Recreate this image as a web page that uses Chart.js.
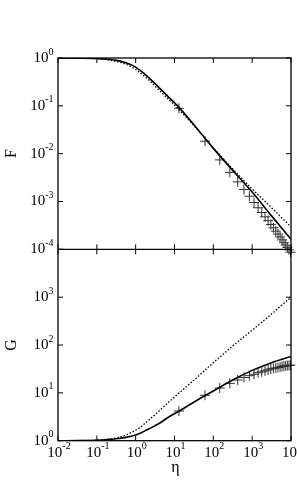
<!DOCTYPE html>
<html>
<head>
<meta charset="utf-8">
<script src="https://cdn.jsdelivr.net/npm/chart.js@4"></script>
<style>
	html, body { margin: 0; padding: 0; background: #fff; }
	#wrap { position: relative; width: 297px; height: 501px; }
</style>
</head>
<body>
<div id="wrap"><canvas id="c" width="297" height="501"></canvas></div>
<script>
// eta grid of the two model curves
const etaCurve = [0.01, 0.032, 0.1, 0.32, 0.56, 1, 1.26, 1.78, 2.24, 4, 7.3, 12, 32, 100, 316, 1000, 3162, 10000]
const fSolid = [1, 0.995, 0.977, 0.891, 0.794, 0.646, 0.562, 0.447, 0.380, 0.240, 0.148, 0.100, 0.0398, 0.0129, 0.00447, 0.00158, 0.000501, 0.000162]
const fDotted = [1, 0.991, 0.966, 0.851, 0.741, 0.575, 0.501, 0.398, 0.339, 0.214, 0.132, 0.0891, 0.0380, 0.0132, 0.00479, 0.00182, 0.000741, 0.000295]
const gSolid = [1, 1.005, 1.023, 1.096, 1.175, 1.318, 1.413, 1.622, 1.778, 2.291, 3.162, 3.981, 6.457, 10.96, 18.62, 29.51, 42.66, 57.54]
const gDotted = [1, 1.007, 1.028, 1.148, 1.318, 1.660, 1.862, 2.344, 2.754, 4.169, 6.531, 9.333, 18.62, 42.66, 95.5, 204.2, 446.7, 1000]

// measured points (+)
const etaPts = [13, 61, 146, 266, 424, 615, 846, 1115, 1421, 1764, 2146, 2567, 3025, 3520, 4055, 4628, 5238, 5888, 6575, 7300, 8065, 8868, 9709]
const fPts = [0.0891, 0.0182, 0.00741, 0.00407, 0.00257, 0.00178, 0.00129, 0.000955, 0.000741, 0.000589, 0.000479, 0.000398, 0.000331, 0.000282, 0.000240, 0.000209, 0.000182, 0.000158, 0.000138, 0.000123, 0.000110, 0.0000977, 0.0000871]
const gPts = [4.17, 8.91, 12.6, 15.8, 18.6, 20.9, 22.9, 24.5, 26.3, 27.5, 28.8, 30.2, 31.6, 32.4, 33.1, 33.9, 34.7, 35.5, 36.3, 36.7, 37.2, 37.6, 38.0]

// tick exponents
const xExps = [-2, -1, 0, 1, 2, 3, 4]
const fExps = [0, -1, -2, -3, -4]
const gExps = [0, 1, 2, 3, 4]

const FONT = "'Liberation Serif', 'DejaVu Serif', serif"

function pairs(xs, ys) {
	return xs.map((x, i) => ({ x, y: ys[i] }))
}

function lineSet(ys, yAxisID, dashed) {
	return {
		data: pairs(etaCurve, ys),
		yAxisID,
		borderColor: "#000",
		borderWidth: dashed ? 1.3 : 1.6,
		borderDash: dashed ? [1.5, 1.8] : [],
		pointRadius: 0,
		cubicInterpolationMode: "monotone",
		fill: false,
	}
}

function pointSet(ys, yAxisID) {
	return {
		data: pairs(etaPts, ys),
		yAxisID,
		showLine: false,
		pointStyle: "cross",
		pointRadius: 5,
		pointBorderWidth: 1,
		pointBorderColor: "#333",
		clip: false,
	}
}

function drawPow(ctx, exp, x, y, align) {
	ctx.font = "15px " + FONT
	const wBase = ctx.measureText("10").width
	ctx.font = "10px " + FONT
	const wExp = ctx.measureText(String(exp)).width
	const total = wBase + wExp
	let left = align === "right" ? x - total : x - total / 2
	ctx.textAlign = "left"
	ctx.textBaseline = "middle"
	ctx.font = "15px " + FONT
	ctx.fillText("10", left, y)
	ctx.font = "10px " + FONT
	ctx.fillText(String(exp).replace("-", "\u2011"), left + wBase, y - 6)
}

const framePlugin = {
	id: "frame",
	afterDraw(chart) {
		const { ctx, chartArea: a } = chart
		const sx = chart.scales.x
		const sf = chart.scales.yF
		const sg = chart.scales.yG
		const mid = sf.getPixelForValue(1e-4)
		const tick = 5
		ctx.save()
		ctx.strokeStyle = "#000"
		ctx.lineWidth = 1.3
		ctx.strokeRect(a.left, a.top, a.right - a.left, a.bottom - a.top)
		ctx.beginPath()
		ctx.moveTo(a.left, mid)
		ctx.lineTo(a.right, mid)
		ctx.stroke()

		ctx.lineWidth = 1
		ctx.beginPath()
		xExps.forEach((e) => {
			const px = sx.getPixelForValue(Math.pow(10, e))
			ctx.moveTo(px, a.top)
			ctx.lineTo(px, a.top + tick)
			ctx.moveTo(px, mid - tick)
			ctx.lineTo(px, mid + tick)
			ctx.moveTo(px, a.bottom)
			ctx.lineTo(px, a.bottom - tick)
		})
		fExps.forEach((e) => {
			const py = sf.getPixelForValue(Math.pow(10, e))
			ctx.moveTo(a.left, py)
			ctx.lineTo(a.left + tick, py)
			ctx.moveTo(a.right, py)
			ctx.lineTo(a.right - tick, py)
		})
		gExps.forEach((e) => {
			const py = sg.getPixelForValue(Math.pow(10, e))
			ctx.moveTo(a.left, py)
			ctx.lineTo(a.left + tick, py)
			ctx.moveTo(a.right, py)
			ctx.lineTo(a.right - tick, py)
		})
		ctx.stroke()

		ctx.fillStyle = "#000"
		fExps.forEach((e) => drawPow(ctx, e, a.left - 4.5, sf.getPixelForValue(Math.pow(10, e)), "right"))
		gExps.filter((e) => e < 4).forEach((e) => drawPow(ctx, e, a.left - 4.5, sg.getPixelForValue(Math.pow(10, e)), "right"))
		xExps.forEach((e) => drawPow(ctx, e, sx.getPixelForValue(Math.pow(10, e)) + 1, a.bottom + 12, "center"))

		// axis titles
		ctx.font = "16px " + FONT
		ctx.textAlign = "center"
		ctx.textBaseline = "middle"
		ctx.fillText("\u03b7", (a.left + a.right) / 2 + 1, a.bottom + 27)
		const titles = [["F", (a.top + mid) / 2], ["G", (mid + a.bottom) / 2]]
		titles.forEach(([t, y]) => {
			ctx.save()
			ctx.translate(12, y)
			ctx.rotate(-Math.PI / 2)
			ctx.fillText(t, 0, 0)
			ctx.restore()
		})
		ctx.restore()
	},
}

new Chart(document.getElementById("c"), {
	type: "line",
	data: {
		datasets: [
			lineSet(fSolid, "yF", false),
			lineSet(fDotted, "yF", true),
			pointSet(fPts, "yF"),
			lineSet(gSolid, "yG", false),
			lineSet(gDotted, "yG", true),
			pointSet(gPts, "yG"),
		],
	},
	options: {
		responsive: false,
		animation: false,
		devicePixelRatio: 1,
		layout: { padding: { left: 58, right: 4.3, top: 58, bottom: 60.3 } },
		plugins: { legend: { display: false }, tooltip: { enabled: false } },
		scales: {
			x: { type: "logarithmic", min: 0.01, max: 10000, display: false },
			yF: { type: "logarithmic", min: 1e-8, max: 1, display: false },
			yG: { type: "logarithmic", min: 1, max: 1e8, display: false },
		},
	},
	plugins: [framePlugin],
})
</script>
</body>
</html>
